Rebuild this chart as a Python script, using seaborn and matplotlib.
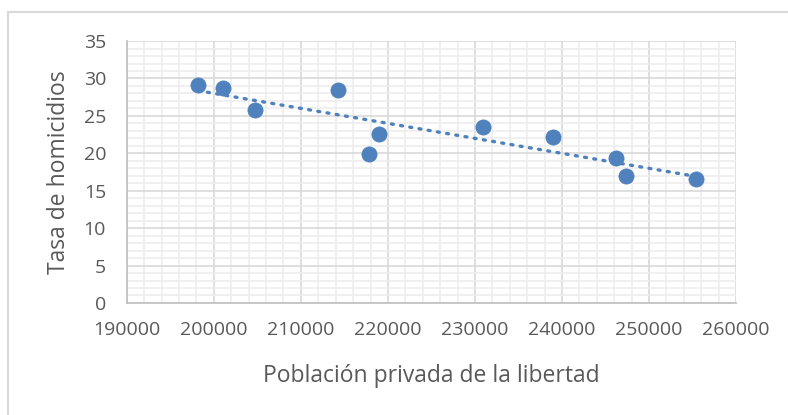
import numpy as np
import matplotlib
matplotlib.use("Agg")
import matplotlib.pyplot as plt
from matplotlib.ticker import MultipleLocator
from matplotlib.patches import Rectangle
import seaborn as sns
import pandas as pd

# values
poblacion = [198200, 201000, 204700, 214250, 217800, 219000, 230900, 239000, 246200, 247400, 255400]
homicidios = [29.1, 28.7, 25.8, 28.45, 19.9, 22.6, 23.5, 22.2, 19.4, 17.0, 16.6]
x_ticks = [190000, 200000, 210000, 220000, 230000, 240000, 250000, 260000]
y_ticks = [0, 5, 10, 15, 20, 25, 30, 35]

df = pd.DataFrame({"poblacion": poblacion, "homicidios": homicidios})

sns.set_theme(style="white")
plt.rcParams["font.family"] = ["Open Sans", "DejaVu Sans"]

blue = "#4F81BD"
text_col = "#595959"

fig = plt.figure(figsize=(7.88, 4.15), dpi=100)
ax = fig.add_axes([0.161, 0.270, 0.773, 0.631])

# outer chart border (Excel style)
fig.patches.append(Rectangle((8 / 788, -0.1), 1.2, 1 - 12 / 415 + 0.1,
                             transform=fig.transFigure, fill=False,
                             edgecolor="#d9d9d9", linewidth=1.5))

# gridlines
ax.set_xlim(190000, 260000)
ax.set_ylim(0, 35)
ax.xaxis.set_major_locator(MultipleLocator(10000))
ax.xaxis.set_minor_locator(MultipleLocator(2000))
ax.yaxis.set_major_locator(MultipleLocator(5))
ax.yaxis.set_minor_locator(MultipleLocator(1))
ax.grid(which="major", color="#d9d9d9", linewidth=1.2)
ax.grid(which="minor", color="#ededed", linewidth=1.2)
ax.set_axisbelow(True)

# trend line
sns.regplot(data=df, x="poblacion", y="homicidios", scatter=False, ci=None, ax=ax,
            line_kws=dict(color=blue, linewidth=2.4, linestyle=(0, (0.6, 2.2)),
                          dash_capstyle="round"))

sns.scatterplot(data=df, x="poblacion", y="homicidios", ax=ax, color=blue,
                s=120, edgecolor=blue, linewidth=0.5, zorder=3)

for side in ["top", "right"]:
    ax.spines[side].set_visible(False)
for side in ["left", "bottom"]:
    ax.spines[side].set_color("#bfbfbf")
    ax.spines[side].set_linewidth(1.2)

ax.set_xticks(x_ticks)
ax.set_yticks(y_ticks)
ax.set_xticklabels([str(v) for v in x_ticks])
ax.tick_params(which="major", direction="out", length=6, width=1.2, color="#bfbfbf",
               labelsize=14, labelcolor=text_col, pad=7)
ax.tick_params(which="minor", length=0)
ax.tick_params(axis="y", pad=9)

ax.set_xlabel("Población privada de la libertad", fontsize=16.5, color=text_col, labelpad=18)
ax.set_ylabel("Tasa de homicidios", fontsize=16.5, color=text_col, labelpad=9)

fig.savefig("out.png", dpi=100)
